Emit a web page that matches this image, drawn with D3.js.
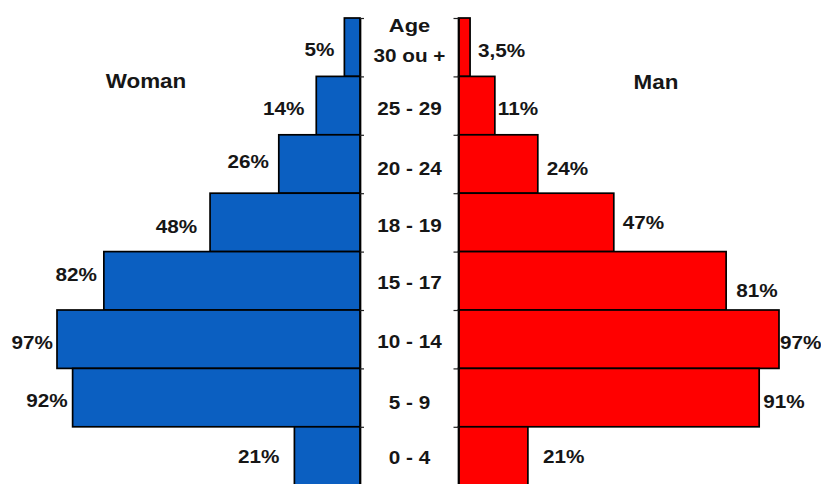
<!DOCTYPE html>
<html>
<head>
<meta charset="utf-8">
<script src="https://cdn.jsdelivr.net/npm/d3@7"></script>
<style>
  html, body { margin: 0; padding: 0; background: #ffffff; }
  svg { display: block; }
  text { font-family: "Liberation Sans", Arial, sans-serif; font-weight: bold; fill: #161616; }
</style>
</head>
<body>
<svg id="chart" width="821" height="484"></svg>
<script>
// ---- data ----
const ageGroups = ["30 ou +", "25 - 29", "20 - 24", "18 - 19", "15 - 17", "10 - 14", "5 - 9", "0 - 4"];
const womanValues = [5, 14, 26, 48, 82, 97, 92, 21];
const manValues = [3.5, 11, 24, 47, 81, 97, 91, 21];
const womanLabels = ["5%", "14%", "26%", "48%", "82%", "97%", "92%", "21%"];
const manLabels = ["3,5%", "11%", "24%", "47%", "81%", "97%", "91%", "21%"];
const seriesNames = ["Woman", "Man"];
const axisTitle = "Age";

// ---- layout (label nudges: [gap from bar end, baseline offset from row centre]) ----
const womanNudge = [[10, 9], [12, 9.5], [10, 4], [13, 11], [7, 0.5], [4, 10], [5, 9], [15, 7]];
const manNudge = [[8, 10], [3, 9.5], [9, 11], [9, 7], [10, 16.5], [1, 10], [4, 10], [15, 7]];
const ageDy = [15, 9.5, 11, 10, 8, 9, 11, 8];

(function () {
const svg = d3.select("#chart");
const plotTop = 18, rowH = 58.4;
const plotBottom = plotTop + rowH * ageGroups.length;

const y = d3.scaleBand().domain(ageGroups).range([plotTop, plotBottom]).paddingInner(0).paddingOuter(0);
const yEdge = d3.scaleLinear().domain([0, ageGroups.length]).range([plotTop, plotBottom]);
const xL = d3.scaleLinear().domain([0, 97]).range([360, 57]);
const xR = d3.scaleLinear().domain([0, 97]).range([458.5, 779]);

const blue = "#0b5fc1", red = "#ff0000";
const SX = 1.15;

function label(sel, x, yy, txt, anchor, size) {
  sel.append("text")
    .attr("transform", `translate(${x},${yy}) scale(${SX},1)`)
    .attr("text-anchor", anchor)
    .attr("font-size", size)
    .text(txt);
}

// bars
svg.append("g").selectAll("rect").data(womanValues).join("rect")
  .attr("x", d => xL(d))
  .attr("y", (d, i) => y(ageGroups[i]))
  .attr("width", d => xL(0) - xL(d))
  .attr("height", y.bandwidth())
  .attr("fill", blue).attr("stroke", "#000").attr("stroke-width", 1.7);

svg.append("g").selectAll("rect").data(manValues).join("rect")
  .attr("x", xR(0))
  .attr("y", (d, i) => y(ageGroups[i]))
  .attr("width", d => xR(d) - xR(0))
  .attr("height", y.bandwidth())
  .attr("fill", red).attr("stroke", "#000").attr("stroke-width", 1.7);

// axes with small ticks at row boundaries
const ticks = d3.range(0, ageGroups.length + 1);
const axL = svg.append("g").attr("transform", `translate(${xL(0)},0)`)
  .call(d3.axisRight(yEdge).tickValues(ticks).tickFormat("").tickSize(4).tickSizeOuter(0));
const axR = svg.append("g").attr("transform", `translate(${xR(0)},0)`)
  .call(d3.axisLeft(yEdge).tickValues(ticks).tickFormat("").tickSize(5).tickSizeOuter(0));
[axL, axR].forEach(a => {
  a.select(".domain").attr("stroke", "#000").attr("stroke-width", 1.7);
  a.selectAll(".tick line").attr("stroke", "#222").attr("stroke-width", 1.2);
});

const mid = i => y(ageGroups[i]) + y.bandwidth() / 2;

// value labels
const g = svg.append("g");
womanValues.forEach((v, i) => label(g, xL(v) - womanNudge[i][0], mid(i) + womanNudge[i][1], womanLabels[i], "end", 18));
manValues.forEach((v, i) => label(g, xR(v) + manNudge[i][0], mid(i) + manNudge[i][1], manLabels[i], "start", 18));

// age labels
const cx = 409.5;
ageGroups.forEach((a, i) => label(g, cx, mid(i) + ageDy[i], a, "middle", 18));
label(g, cx, 32, axisTitle, "middle", 19);

// series titles
label(g, 146, 88, seriesNames[0], "middle", 19.5);
label(g, 656, 89, seriesNames[1], "middle", 19.5);
})();
</script>
</body>
</html>
